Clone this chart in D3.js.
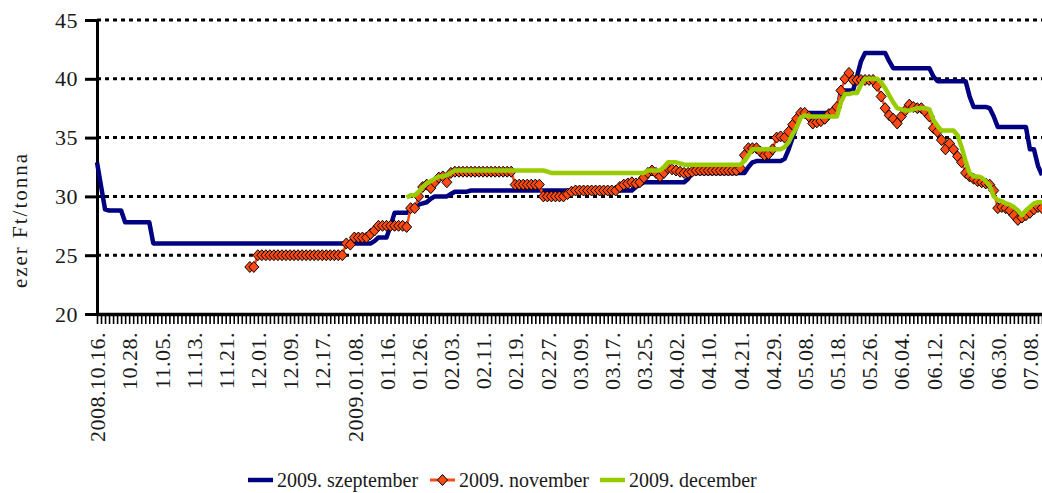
<!DOCTYPE html>
<html>
<head>
<meta charset="utf-8">
<script src="https://cdn.jsdelivr.net/npm/d3@7"></script>
<style>
body { margin: 0; background: #fff; }
svg text { font-family: "Liberation Serif", "DejaVu Serif", serif; fill: #1a1a1a; }
</style>
</head>
<body>
<div id="chart"></div>
<script>
// one label for every 8th trading day
var tickLabels = ["2008.10.16.", "10.28.", "11.05.", "11.13.", "11.21.", "12.01.", "12.09.", "12.17.",
	"2009.01.08.", "01.16.", "01.26.", "02.03.", "02.11.", "02.19.", "02.27.", "03.09.", "03.17.",
	"03.25.", "04.02.", "04.10.", "04.21.", "04.29.", "05.08.", "05.18.", "05.26.", "06.04.",
	"06.12.", "06.22.", "06.30.", "07.08."];
var labelStep = 8;
var yTicks = [20, 25, 30, 35, 40, 45];
var seriesNames = ["2009. szeptember", "2009. november", "2009. december"];

// ezer Ft/tonna, one value per trading day (rows of 8)
var sepValues = [
	32.9, 30.9, 28.9, 28.8, 28.8, 28.8, 28.8, 27.8,
	27.8, 27.8, 27.8, 27.8, 27.8, 27.8, 26.0, 26.0,
	26.0, 26.0, 26.0, 26.0, 26.0, 26.0, 26.0, 26.0,
	26.0, 26.0, 26.0, 26.0, 26.0, 26.0, 26.0, 26.0,
	26.0, 26.0, 26.0, 26.0, 26.0, 26.0, 26.0, 26.0,
	26.0, 26.0, 26.0, 26.0, 26.0, 26.0, 26.0, 26.0,
	26.0, 26.0, 26.0, 26.0, 26.0, 26.0, 26.0, 26.0,
	26.0, 26.0, 26.0, 26.0, 26.0, 26.0, 26.0, 26.0,
	26.0, 26.0, 26.0, 26.0, 26.0, 26.2, 26.5, 26.5,
	26.5, 27.5, 28.6, 28.6, 28.6, 28.6, 28.8, 29.0,
	29.3, 29.4, 29.5, 29.8, 30.0, 30.0, 30.0, 30.0,
	30.2, 30.4, 30.4, 30.4, 30.4, 30.5, 30.5, 30.5,
	30.5, 30.5, 30.5, 30.5, 30.5, 30.5, 30.5, 30.5,
	30.5, 30.5, 30.5, 30.5, 30.5, 30.5, 30.5, 30.5,
	30.5, 30.5, 30.5, 30.5, 30.5, 30.5, 30.5, 30.5,
	30.5, 30.5, 30.5, 30.5, 30.5, 30.5, 30.5, 30.5,
	30.5, 30.5, 30.5, 30.5, 30.5, 30.5, 30.8, 31.0,
	31.2, 31.2, 31.2, 31.2, 31.2, 31.2, 31.2, 31.2,
	31.2, 31.2, 31.2, 31.5, 32.0, 32.0, 32.0, 32.0,
	32.0, 32.0, 32.0, 32.0, 32.0, 32.0, 32.0, 32.0,
	32.0, 32.0, 32.5, 32.9, 33.0, 33.0, 33.0, 33.0,
	33.0, 33.0, 33.0, 33.2, 34.0, 35.0, 36.0, 36.8,
	37.1, 37.1, 37.1, 37.1, 37.1, 37.1, 37.1, 37.1,
	37.1, 39.0, 39.0, 39.0, 39.0, 40.2, 41.5, 42.2,
	42.2, 42.2, 42.2, 42.2, 42.2, 41.5, 40.9, 40.9,
	40.9, 40.9, 40.9, 40.9, 40.9, 40.9, 40.9, 40.9,
	40.2, 39.8, 39.8, 39.8, 39.8, 39.8, 39.8, 39.8,
	39.8, 38.5, 37.6, 37.6, 37.6, 37.6, 37.5, 36.8,
	35.9, 35.9, 35.9, 35.9, 35.9, 35.9, 35.9, 35.9,
	34.0, 34.0, 32.6, 31.8
];
var novValues = [
	null, null, null, null, null, null, null, null,
	null, null, null, null, null, null, null, null,
	null, null, null, null, null, null, null, null,
	null, null, null, null, null, null, null, null,
	null, null, null, null, null, null, 24.0, 24.0,
	25.0, 25.0, 25.0, 25.0, 25.0, 25.0, 25.0, 25.0,
	25.0, 25.0, 25.0, 25.0, 25.0, 25.0, 25.0, 25.0,
	25.0, 25.0, 25.0, 25.0, 25.0, 25.0, 26.0, 25.9,
	26.5, 26.5, 26.5, 26.5, 26.8, 27.1, 27.5, 27.5,
	27.5, 27.5, 27.5, 27.5, 27.5, 27.4, 29.0, 29.0,
	30.0, 30.8, 31.0, 30.7, 31.2, 31.6, 31.7, 31.2,
	32.0, 32.1, 32.1, 32.1, 32.1, 32.1, 32.1, 32.1,
	32.1, 32.1, 32.1, 32.1, 32.1, 32.1, 32.1, 32.1,
	31.0, 31.0, 31.0, 31.0, 31.0, 31.0, 31.0, 30.0,
	30.0, 30.0, 30.0, 30.0, 30.0, 30.2, 30.4, 30.5,
	30.5, 30.5, 30.5, 30.5, 30.5, 30.5, 30.5, 30.5,
	30.5, 30.5, 30.8, 31.0, 31.1, 31.2, 31.1, 31.2,
	31.6, 32.0, 32.2, 32.0, 31.7, 32.0, 32.4, 32.3,
	32.2, 32.1, 32.0, 32.0, 32.1, 32.2, 32.2, 32.2,
	32.2, 32.2, 32.2, 32.2, 32.2, 32.2, 32.2, 32.2,
	32.4, 33.5, 34.1, 34.1, 34.1, 33.8, 33.5, 33.6,
	34.0, 35.0, 35.1, 35.0, 35.5, 36.1, 36.6, 37.1,
	37.1, 36.8, 36.2, 36.3, 36.4, 36.6, 37.0, 37.2,
	37.6, 39.0, 40.0, 40.5, 39.9, 39.9, 39.9, 39.9,
	39.9, 39.9, 39.4, 38.5, 37.5, 36.9, 36.6, 36.2,
	36.8, 37.3, 37.8, 37.6, 37.5, 37.5, 37.2, 36.8,
	35.8, 35.5, 34.8, 34.0, 34.5, 34.0, 33.4, 32.9,
	32.0, 31.7, 31.5, 31.3, 31.2, 31.1, 31.0, 30.5,
	29.0, 29.1, 29.0, 28.8, 28.4, 28.0, 28.2, 28.4,
	28.6, 28.9, 29.1, 29.0
];
var decValues = [
	null, null, null, null, null, null, null, null,
	null, null, null, null, null, null, null, null,
	null, null, null, null, null, null, null, null,
	null, null, null, null, null, null, null, null,
	null, null, null, null, null, null, null, null,
	null, null, null, null, null, null, null, null,
	null, null, null, null, null, null, null, null,
	null, null, null, null, null, null, null, null,
	null, null, null, null, null, null, null, null,
	null, null, null, null, null, 29.9, 30.1, 30.1,
	30.4, 30.8, 31.1, 31.3, 31.5, 31.7, 31.7, 31.8,
	32.0, 32.2, 32.2, 32.2, 32.2, 32.2, 32.2, 32.2,
	32.2, 32.2, 32.2, 32.2, 32.2, 32.2, 32.2, 32.2,
	32.2, 32.2, 32.2, 32.2, 32.2, 32.2, 32.2, 32.2,
	32.1, 32.0, 32.0, 32.0, 32.0, 32.0, 32.0, 32.0,
	32.0, 32.0, 32.0, 32.0, 32.0, 32.0, 32.0, 32.0,
	32.0, 32.0, 32.0, 32.0, 32.0, 32.0, 32.0, 32.0,
	32.0, 32.2, 32.2, 32.2, 32.2, 32.5, 32.9, 32.9,
	32.9, 32.8, 32.7, 32.7, 32.7, 32.7, 32.7, 32.7,
	32.7, 32.7, 32.7, 32.7, 32.7, 32.7, 32.7, 32.7,
	32.7, 33.0, 33.5, 34.0, 34.0, 34.0, 34.0, 34.0,
	34.0, 34.0, 34.0, 34.2, 34.6, 35.3, 35.9, 36.7,
	36.9, 36.8, 36.8, 36.8, 36.8, 36.8, 36.8, 36.8,
	36.8, 38.0, 38.7, 38.7, 38.8, 38.8, 39.5, 40.0,
	40.0, 40.0, 40.0, 39.7, 39.2, 38.6, 38.0, 37.5,
	37.4, 37.3, 37.3, 37.4, 37.5, 37.5, 37.5, 37.4,
	36.5, 36.0, 35.6, 35.6, 35.6, 35.6, 35.2, 34.2,
	33.0, 32.0, 31.7, 31.7, 31.6, 31.3, 30.9, 30.0,
	29.7, 29.6, 29.4, 29.3, 29.1, 28.8, 28.4, 28.8,
	29.1, 29.4, 29.5, 29.5
];

var svgWidth = 1042;
var svgHeight = 493;
var plotLeft = 97;
var plotRight = 1042;
var plotTop = 20;
var plotBottom = 314;
var fontFamily = "'Liberation Serif', 'DejaVu Serif', serif";
var navy = "#000080";
var orange = "#ff4a14";
var green = "#99cc00";

var svg = d3.select("#chart").append("svg")
	.attr("width", svgWidth)
	.attr("height", svgHeight);

var categories = d3.range(sepValues.length);

var x = d3.scalePoint()
	.domain(categories)
	.range([plotLeft, plotRight]);

var y = d3.scaleLinear()
	.domain([20, 45])
	.range([plotBottom, plotTop]);

// dotted gridlines
svg.append("g")
	.selectAll("line")
	.data(yTicks.filter(function (d) { return d > 20; }))
	.enter()
	.append("line")
	.attr("x1", plotLeft)
	.attr("x2", plotRight)
	.attr("y1", function (d) { return y(d); })
	.attr("y2", function (d) { return y(d); })
	.attr("stroke", "#000")
	.attr("stroke-width", 3)
	.attr("stroke-dasharray", "4,4");

// y axis
var yAxis = svg.append("g")
	.attr("transform", "translate(" + plotLeft + ",0)")
	.call(d3.axisLeft(y).tickValues(yTicks).tickSize(12).tickSizeOuter(0).tickPadding(7));
yAxis.attr("font-family", fontFamily);
yAxis.select(".domain").attr("stroke", "#000").attr("stroke-width", 3);
yAxis.selectAll(".tick line").attr("stroke", "#000").attr("stroke-width", 3);
yAxis.selectAll(".tick text")
	.style("font-family", fontFamily)
	.style("font-size", "22px")
	.style("letter-spacing", "0.5px")
	.attr("fill", "#1a1a1a");

// x axis: a tick for every trading day, a label on every 8th
var xAxis = svg.append("g")
	.attr("transform", "translate(0," + plotBottom + ")")
	.call(d3.axisBottom(x)
		.tickSize(10)
		.tickSizeOuter(0)
		.tickFormat(function (d) { return d % labelStep === 0 ? tickLabels[d / labelStep] : ""; }));
xAxis.attr("font-family", fontFamily);
xAxis.select(".domain").attr("stroke", "#000").attr("stroke-width", 3.5);
xAxis.selectAll(".tick line").attr("stroke", "#000").attr("stroke-width", 1.6);
xAxis.selectAll(".tick text")
	.attr("transform", "rotate(-90)")
	.attr("x", -18)
	.attr("y", 0)
	.attr("dy", "0.35em")
	.style("text-anchor", "end")
	.style("font-family", fontFamily)
	.style("font-size", "22px")
	.style("letter-spacing", "0.5px")
	.attr("fill", "#1a1a1a");

// y axis title
svg.append("text")
	.attr("transform", "translate(27,220) rotate(-90)")
	.attr("text-anchor", "middle")
	.style("font-family", fontFamily)
	.style("font-size", "21px")
	.style("letter-spacing", "2px")
	.text("ezer Ft/tonna");

function makeLine()
{
	return d3.line()
		.defined(function (d) { return d !== null; })
		.x(function (d, i) { return x(i); })
		.y(function (d) { return y(d); });
}

svg.append("path")
	.datum(sepValues)
	.attr("d", makeLine())
	.attr("fill", "none")
	.attr("stroke", navy)
	.attr("stroke-width", 4.5)
	.attr("stroke-linejoin", "round");

svg.append("path")
	.datum(novValues)
	.attr("d", makeLine())
	.attr("fill", "none")
	.attr("stroke", orange)
	.attr("stroke-width", 2.5)
	.attr("stroke-linejoin", "round");

var diamond = "M0,-5.5L5,0L0,5.5L-5,0Z";
var novPoints = [];
for (var i = 0; i < novValues.length; i++)
{
	if (novValues[i] !== null) novPoints.push([i, novValues[i]]);
}
svg.append("g")
	.selectAll("path")
	.data(novPoints)
	.enter()
	.append("path")
	.attr("d", diamond)
	.attr("transform", function (d) { return "translate(" + x(d[0]) + "," + y(d[1]) + ")"; })
	.attr("fill", orange)
	.attr("stroke", "#000")
	.attr("stroke-width", 1);

svg.append("path")
	.datum(decValues)
	.attr("d", makeLine())
	.attr("fill", "none")
	.attr("stroke", green)
	.attr("stroke-width", 4.5)
	.attr("stroke-linejoin", "round");

// legend
var legendY = 480;
var legendItems = [
	{ name: seriesNames[0], color: navy, x: 248, marker: false },
	{ name: seriesNames[1], color: orange, x: 430, marker: true },
	{ name: seriesNames[2], color: green, x: 600, marker: false }
];
var legend = svg.append("g")
	.selectAll("g")
	.data(legendItems)
	.enter()
	.append("g")
	.attr("transform", function (d) { return "translate(" + d.x + "," + legendY + ")"; });
legend.append("line")
	.attr("x1", 0)
	.attr("x2", 25)
	.attr("stroke", function (d) { return d.color; })
	.attr("stroke-width", function (d) { return d.marker ? 3 : 4.5; });
legend.filter(function (d) { return d.marker; })
	.append("path")
	.attr("d", diamond)
	.attr("transform", "translate(12.5,0)")
	.attr("fill", orange)
	.attr("stroke", "#000")
	.attr("stroke-width", 1);
legend.append("text")
	.attr("x", 29)
	.attr("dy", "0.35em")
	.style("font-family", fontFamily)
	.style("font-size", "20px")
	.text(function (d) { return d.name; });
</script>
</body>
</html>
